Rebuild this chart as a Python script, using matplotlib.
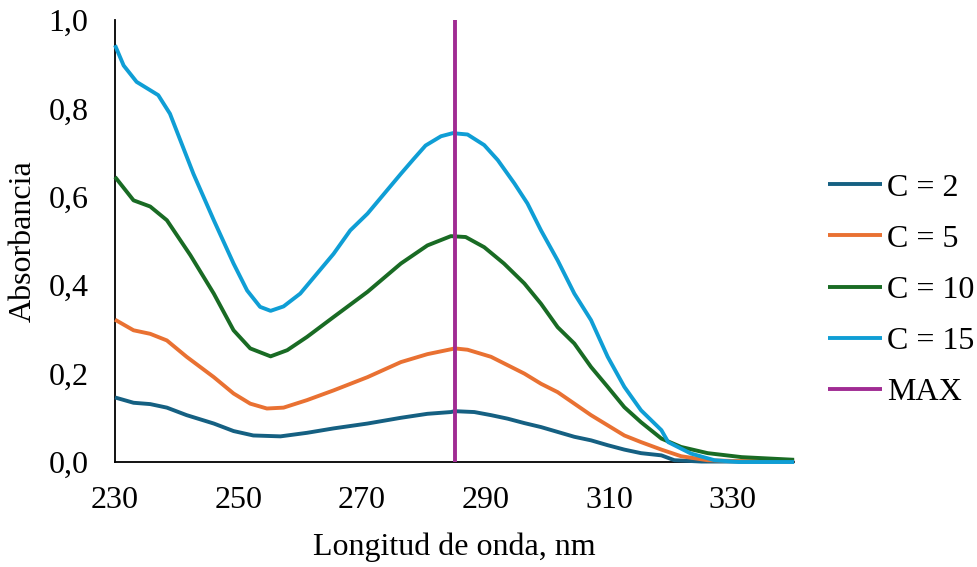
import matplotlib

matplotlib.use("Agg")
import matplotlib.pyplot as plt

# Office palette
COLORS = ["#156082", "#E97132", "#196B24", "#0F9ED5", "#A02B93"]
LABELS = ["C = 2", "C = 5", "C = 10", "C = 15", "MAX"]

# wavelength (nm) / absorbance
X_C2 = [230, 233.0, 235.7, 238.4, 241.6, 246.0, 249.2, 252.4, 256.8, 261.1, 265.4,
        270.9, 276.3, 280.6, 284.4, 285.0, 288.2, 290.9, 293.6, 296.3, 299.0, 301.7,
        304.4, 307.1, 309.8, 312.5, 315.2, 318.5, 320.6, 325, 330, 335, 340]
Y_C2 = [0.146, 0.134, 0.131, 0.123, 0.106, 0.087, 0.070, 0.060, 0.058, 0.066, 0.076,
        0.087, 0.100, 0.109, 0.113, 0.115, 0.113, 0.106, 0.098, 0.088, 0.079, 0.068,
        0.057, 0.049, 0.038, 0.028, 0.020, 0.015, 0.004, 0.001, 0.001, 0.001, 0.001]

X_C5 = [230, 233.0, 235.7, 238.4, 241.6, 246.0, 249.2, 251.9, 254.6, 257.3, 261.1,
        265.4, 270.9, 276.3, 280.6, 284.4, 285.0, 287.1, 290.9, 293.6, 296.3, 299.0,
        301.7, 304.4, 307.1, 309.8, 312.5, 315.2, 318.5, 321.7, 326.0, 331, 335, 340]
Y_C5 = [0.322, 0.298, 0.290, 0.275, 0.238, 0.192, 0.155, 0.132, 0.121, 0.123, 0.140,
        0.162, 0.192, 0.226, 0.244, 0.255, 0.257, 0.254, 0.238, 0.219, 0.200, 0.177,
        0.158, 0.132, 0.106, 0.083, 0.060, 0.045, 0.028, 0.013, 0.004, 0.002, 0.002, 0.002]

X_C10 = [230, 233.0, 235.7, 238.4, 242.2, 246.0, 249.2, 251.9, 255.2, 257.9, 261.1,
         265.4, 270.9, 276.3, 280.6, 284.4, 286.8, 289.8, 293.0, 296.3, 299.0, 301.7,
         304.4, 307.1, 309.8, 312.5, 315.2, 318.5, 321.7, 326.0, 331.5, 340]
Y_C10 = [0.645, 0.592, 0.578, 0.547, 0.468, 0.381, 0.298, 0.257, 0.239, 0.253, 0.283,
         0.328, 0.385, 0.449, 0.490, 0.511, 0.509, 0.486, 0.449, 0.404, 0.358, 0.305,
         0.268, 0.215, 0.170, 0.124, 0.090, 0.053, 0.034, 0.020, 0.011, 0.005]

X_C15 = [230, 231.4, 233.5, 237.0, 238.9, 242.7, 246.0, 249.2, 251.4, 253.5, 255.2,
         257.3, 260.0, 262.7, 265.4, 268.1, 270.9, 273.6, 276.3, 278.4, 280.3, 282.8,
         284.7, 287.1, 289.8, 292.0, 294.7, 296.8, 299.0, 301.7, 304.4, 307.1, 309.8,
         312.5, 315.2, 318.5, 319.6, 323.3, 327.1, 331, 335, 340]
Y_C15 = [0.943, 0.897, 0.860, 0.830, 0.788, 0.652, 0.547, 0.449, 0.388, 0.351, 0.342,
         0.352, 0.381, 0.426, 0.471, 0.524, 0.562, 0.607, 0.652, 0.686, 0.716, 0.737,
         0.744, 0.741, 0.717, 0.683, 0.630, 0.585, 0.524, 0.456, 0.381, 0.321, 0.238,
         0.170, 0.117, 0.072, 0.045, 0.019, 0.004, 0.0, 0.0, 0.0]

X_MAX = [285, 285]
Y_MAX = [0.0, 1.0]

X_TICKS = [230, 250, 270, 290, 310, 330]
Y_TICKS = [0.0, 0.2, 0.4, 0.6, 0.8, 1.0]
Y_TICK_LABELS = ["0,0", "0,2", "0,4", "0,6", "0,8", "1,0"]

plt.rcParams["font.family"] = ["Liberation Serif", "DejaVu Serif"]
FS = 23

fig = plt.figure(figsize=(9.78, 5.67), dpi=100)
ax = fig.add_axes([0.1176, 0.1852, 0.6944, 0.7795])

series = [(X_C2, Y_C2), (X_C5, Y_C5), (X_C10, Y_C10), (X_C15, Y_C15), (X_MAX, Y_MAX)]
for (xs, ys), color, label in zip(series, COLORS, LABELS):
    ax.plot(xs, ys, color=color, lw=2.8, label=label, clip_on=False,
            solid_capstyle="butt")

ax.set_xlim(230, 340)
ax.set_ylim(0, 1.0)
ax.set_xticks(X_TICKS)
ax.set_yticks(Y_TICKS)
ax.set_yticklabels(Y_TICK_LABELS)
ax.tick_params(axis="both", length=0, labelsize=FS)
ax.tick_params(axis="x", pad=17)
ax.tick_params(axis="y", pad=19)

for side in ["top", "right"]:
    ax.spines[side].set_visible(False)
for side in ["left", "bottom"]:
    ax.spines[side].set_color("black")
    ax.spines[side].set_linewidth(1.3)
    ax.spines[side].set_zorder(1)

ax.set_xlabel("Longitud de onda, nm", fontsize=FS, labelpad=13)
ax.set_ylabel("Absorbancia", fontsize=FS, labelpad=8)

fig.legend(loc="center left", bbox_to_anchor=(0.8466, 0.4885), frameon=False,
           fontsize=FS, handlelength=1.69, handletextpad=0.15, labelspacing=0.68,
           borderpad=0, borderaxespad=0)

fig.savefig("out.png", dpi=100, facecolor="white")
